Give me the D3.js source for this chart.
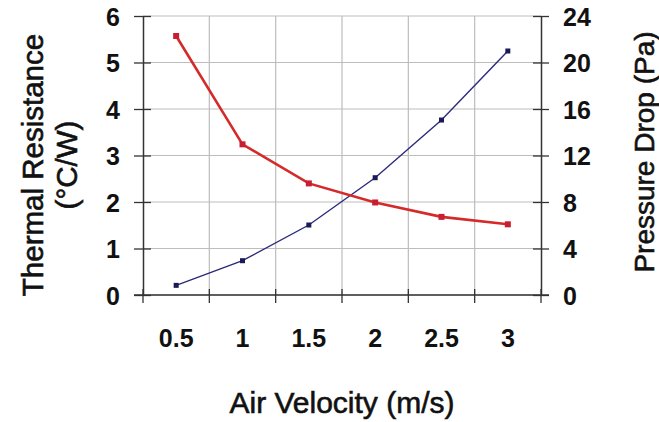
<!DOCTYPE html>
<html><head><meta charset="utf-8">
<script src="https://cdn.jsdelivr.net/npm/d3@7"></script>
<style>body{margin:0;background:#fff}svg{display:block;font-family:"Liberation Sans",Arial,sans-serif}</style>
</head><body>
<svg id="c" width="659" height="422"></svg>
<script>
const categories = ["0.5","1","1.5","2","2.5","3"];
const thermalResistance = [5.57, 3.24, 2.40, 1.99, 1.68, 1.52];
const pressureDrop = [0.83, 2.95, 6.02, 10.09, 15.05, 20.99];
const leftTicks = [0,1,2,3,4,5,6];
const rightTicks = [0,4,8,12,16,20,24];

const svg = d3.select("#c");
const L = 143, R = 541, T = 16, B = 295;
const x = d3.scaleBand().domain(categories).range([L, R]);
const yL = d3.scaleLinear().domain([0, 6]).range([B, T]);
const yR = d3.scaleLinear().domain([0, 24]).range([B, T]);
const tf = "'Liberation Sans', Arial, sans-serif";

// gridlines
const g = svg.append("g");
g.selectAll(".hg").data(leftTicks).join("line")
  .attr("x1", L).attr("x2", R).attr("y1", d => yL(d)).attr("y2", d => yL(d))
  .attr("stroke", "#bdbdbd").attr("stroke-width", 1.2);
g.selectAll(".vg").data(categories.slice(1)).join("line")
  .attr("x1", d => x(d)).attr("x2", d => x(d)).attr("y1", T).attr("y2", B)
  .attr("stroke", "#bdbdbd").attr("stroke-width", 1.2);

// axes
const axL = svg.append("g").attr("transform", `translate(${L},0)`)
  .call(d3.axisLeft(yL).tickValues(leftTicks).tickFormat(d3.format("d")).tickSize(9).tickPadding(14).tickSizeOuter(0));
axL.selectAll(".tick line").clone().attr("x2", 8);
const axR = svg.append("g").attr("transform", `translate(${R},0)`)
  .call(d3.axisRight(yR).tickValues(rightTicks).tickFormat(d3.format("d")).tickSize(8).tickPadding(14).tickSizeOuter(0));
axR.selectAll(".tick line").clone().attr("x2", -8);
const axB = svg.append("g").attr("transform", `translate(0,${B})`)
  .call(d3.axisBottom(x).tickSize(0).tickPadding(34));
const bounds = [L].concat(categories.slice(1).map(d => x(d))).concat([R]);
axB.selectAll(".bt").data(bounds).join("line")
  .attr("x1", d => d).attr("x2", d => d)
  .attr("y1", -6).attr("y2", 8);
axB.select(".domain").attr("d", `M${L - 9},0H${R + 8}`);

[axL, axR, axB].forEach(a => {
  a.select(".domain").attr("stroke", "#333").attr("stroke-width", 1.5);
  a.selectAll("line").attr("stroke", "#333").attr("stroke-width", 1.3);
  a.selectAll("text").attr("fill", "#111").style("font-weight", "bold")
   .style("font-family", tf).style("font-size", "25px");
});
axL.selectAll("text").attr("dy", "0.36em");
axR.selectAll("text").attr("dy", "0.36em");

// lines
const cx = i => x(categories[i]) + x.bandwidth() / 2;
const lineL = d3.line().x((d, i) => cx(i)).y(d => yL(d));
const lineR = d3.line().x((d, i) => cx(i)).y(d => yR(d));
svg.append("path").datum(pressureDrop).attr("d", lineR)
  .attr("fill", "none").attr("stroke", "#2b2b7a").attr("stroke-width", 1.4);
svg.append("path").datum(thermalResistance).attr("d", lineL)
  .attr("fill", "none").attr("stroke", "#d42a2a").attr("stroke-width", 2.6);
svg.selectAll(".mr").data(thermalResistance).join("rect")
  .attr("x", (d, i) => cx(i) - 3).attr("y", d => yL(d) - 3)
  .attr("width", 6).attr("height", 6).attr("fill", "#c81e32");
svg.selectAll(".mb").data(pressureDrop).join("rect")
  .attr("x", (d, i) => cx(i) - 2.5).attr("y", d => yR(d) - 2.5)
  .attr("width", 5).attr("height", 5).attr("fill", "#1a1a5a");

// titles
function title(tx, ty, rot, size, txt) {
  svg.append("text").attr("transform", `translate(${tx},${ty}) rotate(${rot})`)
    .attr("text-anchor", "middle").style("font-size", size + "px").style("font-family", tf)
    .attr("fill", "#111").attr("stroke", "#111").attr("stroke-width", 0.6).text(txt);
}
title(43, 165, -90, 29.5, "Thermal Resistance");
title(77, 165, -90, 29.5, "(°C/W)");
title(654, 152, -90, 28, "Pressure Drop (Pa)");
title(342, 413, 0, 30, "Air Velocity (m/s)");
</script>
</body></html>
